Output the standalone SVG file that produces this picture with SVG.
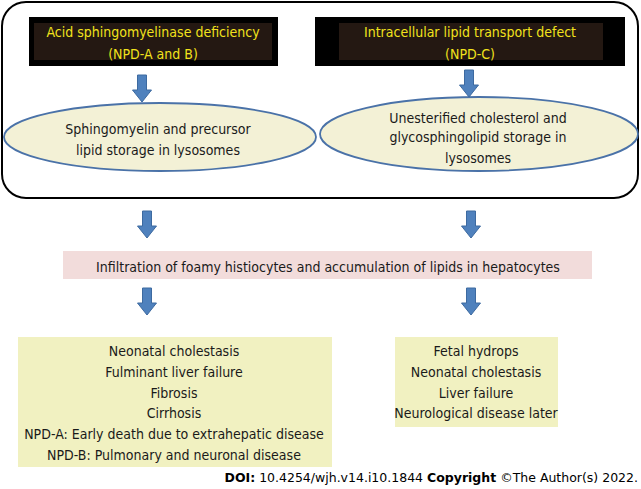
<svg xmlns="http://www.w3.org/2000/svg" width="641" height="489" viewBox="0 0 641 489">
<defs>
<style>
text{font-family:"DejaVu Sans Condensed","DejaVu Sans",sans-serif;font-size:14px;text-anchor:middle;fill:#1a1a1a}
.y{fill:#f2e21c}
.blk{fill:#000}
.inner{fill:#241812}
.ell{fill:#f3f1d6;stroke:#4a72a8;stroke-width:1.8}
.arr{fill:#4f81bd;stroke:#3d6aa0;stroke-width:1}
.res{fill:#f1f1c1}
.doi{font-family:"DejaVu Sans",sans-serif;font-size:12.5px;text-anchor:end;fill:#000}
</style>
<path id="arrow" d="M-4.5,0 H4.5 V15 H9.5 L0,27 L-9.5,15 H-4.5 Z"/>
</defs>
<rect x="2" y="2" width="636" height="196" rx="24" fill="#fff" stroke="#000" stroke-width="2"/>
<g id="acid">
<rect class="blk" x="29" y="17" width="249" height="49"/>
<rect class="inner" x="34" y="23" width="238" height="37"/>
<text class="y" x="153" y="37">Acid sphingomyelinase deficiency</text>
<text class="y" x="153" y="59">(NPD-A and B)</text>
</g>
<g id="transport">
<rect class="blk" x="315" y="17" width="310" height="49"/>
<rect class="inner" x="339" y="23" width="264" height="37"/>
<text class="y" x="470" y="37">Intracellular lipid transport defect</text>
<text class="y" x="470" y="59">(NPD-C)</text>
</g>
<g id="sphingo">
<ellipse class="ell" cx="160" cy="137" rx="156" ry="34"/>
<text x="158" y="134">Sphingomyelin and precursor</text>
<text x="158" y="155">lipid storage in lysosomes</text>
</g>
<g id="chol">
<ellipse class="ell" cx="479" cy="134" rx="159" ry="37"/>
<text x="478" y="123">Unesterified cholesterol and</text>
<text x="478" y="142">glycosphingolipid storage in</text>
<text x="478" y="163">lysosomes</text>
</g>
<g id="infiltration">
<rect x="63" y="251" width="529" height="28" fill="#f2dcdb"/>
<text x="328" y="272">Infiltration of foamy histiocytes and accumulation of lipids in hepatocytes</text>
</g>
<g id="left-outcomes">
<rect class="res" x="18" y="337" width="314" height="130"/>
<text x="174" y="356">Neonatal cholestasis</text>
<text x="174" y="377">Fulminant liver failure</text>
<text x="174" y="398">Fibrosis</text>
<text x="174" y="418">Cirrhosis</text>
<text x="174" y="439">NPD-A: Early death due to extrahepatic disease</text>
<text x="174" y="460">NPD-B: Pulmonary and neuronal disease</text>
</g>
<g id="right-outcomes">
<rect class="res" x="395" y="337" width="163" height="90"/>
<text x="476" y="356">Fetal hydrops</text>
<text x="476" y="377">Neonatal cholestasis</text>
<text x="476" y="398">Liver failure</text>
<text x="476" y="418">Neurological disease later</text>
</g>
<g id="connectors">
<use href="#arrow" class="arr" x="142" y="75"/>
<use href="#arrow" class="arr" x="469" y="70"/>
<use href="#arrow" class="arr" x="147" y="211"/>
<use href="#arrow" class="arr" x="471" y="211"/>
<use href="#arrow" class="arr" x="147" y="288"/>
<use href="#arrow" class="arr" x="471" y="288"/>
</g>
<text class="doi" x="638" y="482"><tspan font-weight="bold">DOI:</tspan> 10.4254/wjh.v14.i10.1844 <tspan font-weight="bold">Copyright</tspan> ©The Author(s) 2022.</text>
</svg>
